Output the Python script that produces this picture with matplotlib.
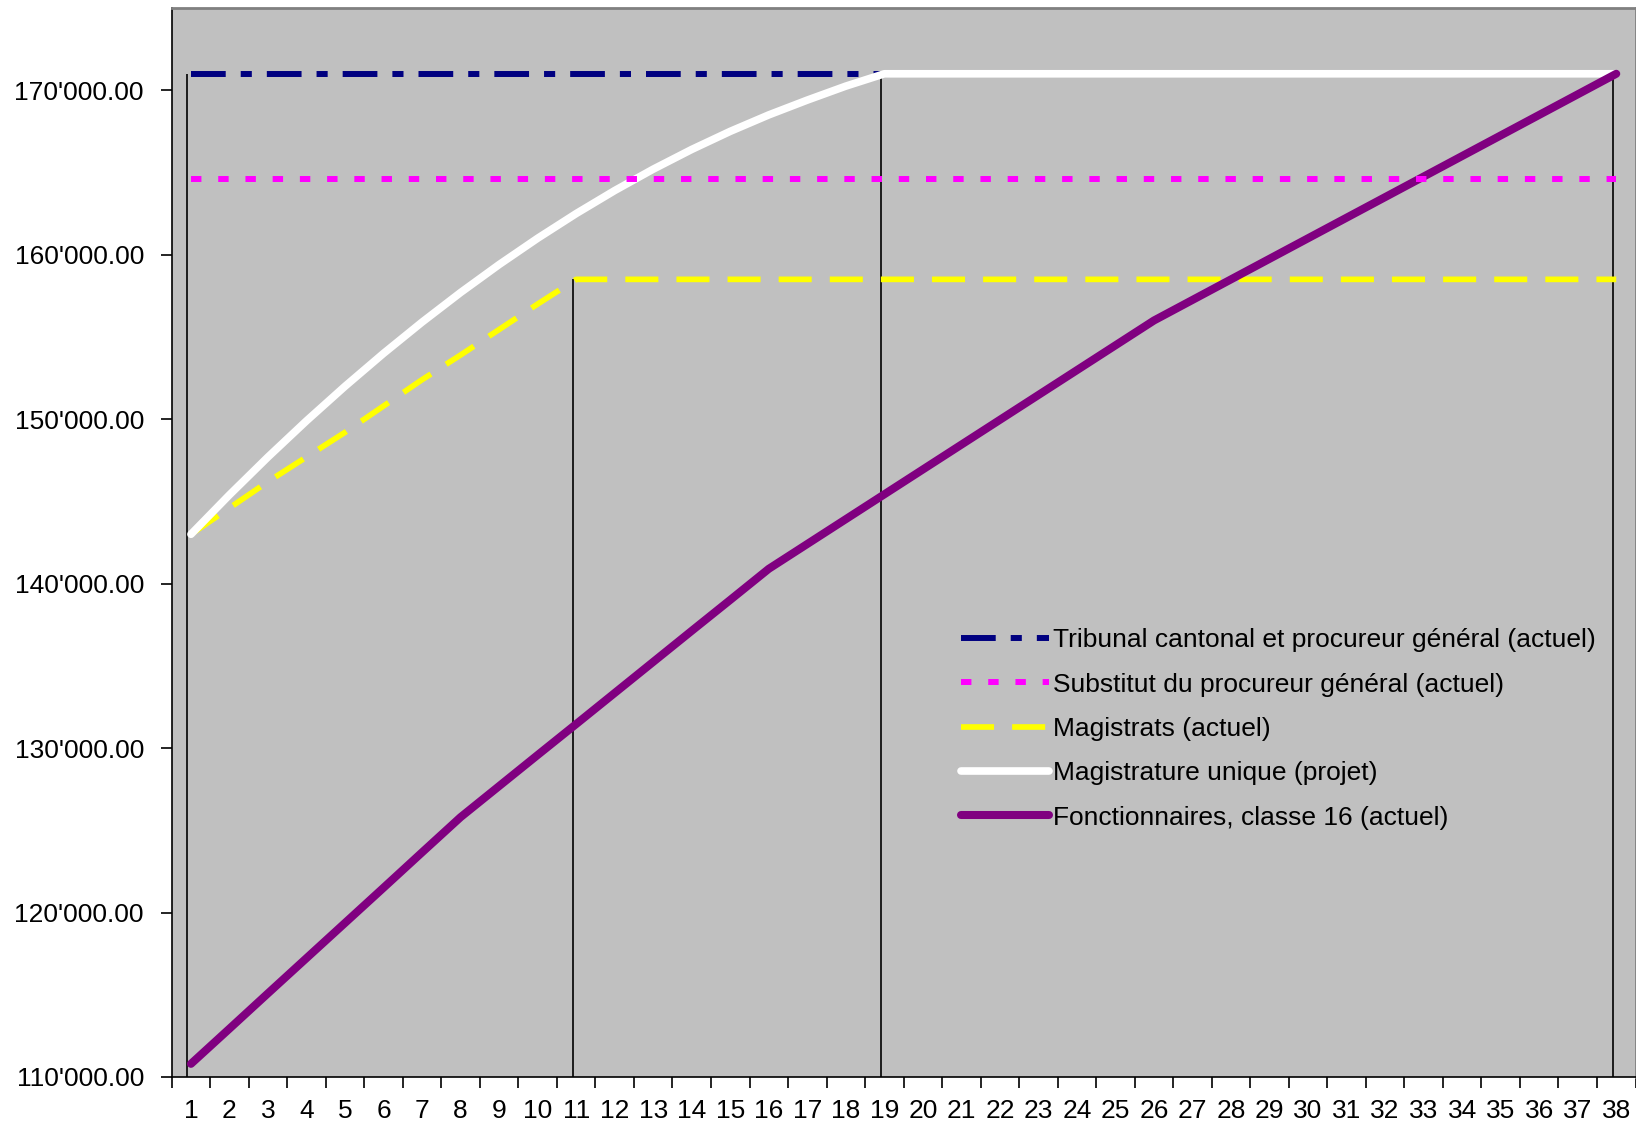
import matplotlib
matplotlib.use("Agg")
import matplotlib.pyplot as plt
from matplotlib.ticker import FixedLocator, FuncFormatter
import numpy as np

plt.rcParams['font.family'] = ['Liberation Sans', 'DejaVu Sans']
plt.rcParams['lines.scale_dashes'] = False

# Years of service
years = list(range(1, 39))

# Annual salaries (CHF)
tribunal = [171000] * 38
substitut = [164600] * 38
magistrats = [143000, 144600, 146200, 147700, 149200, 150800, 152400, 153900,
              155450, 157000, 158500] + [158500] * 27
magistrature_unique = [143000, 145400, 147700, 149900, 152000, 154000, 155900,
                       157700, 159400, 161000, 162500, 163900, 165200, 166400,
                       167500, 168500, 169400, 170250, 171000] + [171000] * 19
fonctionnaires = [110800, 112940, 115090, 117230, 119370, 121510, 123660, 125800,
                  127690, 129580, 131460, 133350, 135240, 137130, 139010, 140900,
                  142410, 143920, 145430, 146940, 148450, 149960, 151470, 152980,
                  154490, 156000, 157250, 158500, 159750, 161000, 162250, 163500,
                  164750, 166000, 167250, 168500, 169750, 171000]

labels = ["Tribunal cantonal et procureur général (actuel)",
          "Substitut du procureur général (actuel)",
          "Magistrats (actuel)",
          "Magistrature unique (projet)",
          "Fonctionnaires, classe 16 (actuel)"]

# Reference drop lines: year and the salary level where each stops
marker_years = [1, 11, 19, 38]
marker_tops = [171000, 158500, 171000, 171000]

W, H = 1636, 1131
fig = plt.figure(figsize=(W / 100, H / 100), dpi=100)
ax = fig.add_axes([171.7 / W, 1 - 1077 / H, (1635.5 - 171.7) / W, (1077 - 8) / H])
ax.set_facecolor('#C0C0C0')

ax.vlines(np.array(marker_years) - 0.09, 110000, marker_tops,
          colors='black', linewidth=1.2, zorder=1)

l1, = ax.plot(years, tribunal, color='#000080', linewidth=4.3,
              dashes=(25, 10.8, 8, 10.8), dash_capstyle='butt', zorder=2,
              label=labels[0])
l3, = ax.plot(years, magistrats, color='#FFFF00', linewidth=4.1,
              dashes=(23.8, 13), dash_capstyle='butt', zorder=3,
              label=labels[2])
l4, = ax.plot(years, magistrature_unique, color='white', linewidth=5.5,
              solid_capstyle='round', solid_joinstyle='round', zorder=4,
              label=labels[3])
l5, = ax.plot(years, fonctionnaires, color='#800080', linewidth=5.8,
              solid_capstyle='round', solid_joinstyle='round', zorder=5,
              label=labels[4])
l2, = ax.plot(years, substitut, color='#FF00FF', linewidth=4.3,
              dashes=(7.5, 12.1), dash_capstyle='butt', zorder=6,
              label=labels[1])

ax.set_xlim(0.5, 38.5)
ax.set_ylim(110000, 175000)

ax.xaxis.set_major_locator(FixedLocator(years))
ax.xaxis.set_minor_locator(FixedLocator(np.arange(0.5, 39, 1.0)))
ax.tick_params(axis='x', which='major', length=0, pad=16, labelsize=19)
ax.tick_params(axis='x', which='minor', length=8, width=1.2, direction='out',
               color='black')

ax.set_yticks(np.arange(110000, 170001, 10000))
ax.yaxis.set_major_formatter(FuncFormatter(
    lambda v, p: f"{v:,.2f}".replace(",", "'")))
ax.tick_params(axis='y', length=8, width=1.2, direction='out', pad=12,
               labelsize=19, color='black')

for side in ('top', 'right'):
    ax.spines[side].set_color('#808080')
    ax.spines[side].set_linewidth(2)
for side in ('left', 'bottom'):
    ax.spines[side].set_color('black')
    ax.spines[side].set_linewidth(1.2)

ax.legend(handles=[l1, l2, l3, l4, l5], loc='upper left',
          bbox_to_anchor=(0.539, 0.4198), frameon=False, fontsize=19,
          handlelength=3.33, handletextpad=0.17, labelspacing=0.77,
          borderpad=0, borderaxespad=0)

fig.savefig('out.png', dpi=100)
